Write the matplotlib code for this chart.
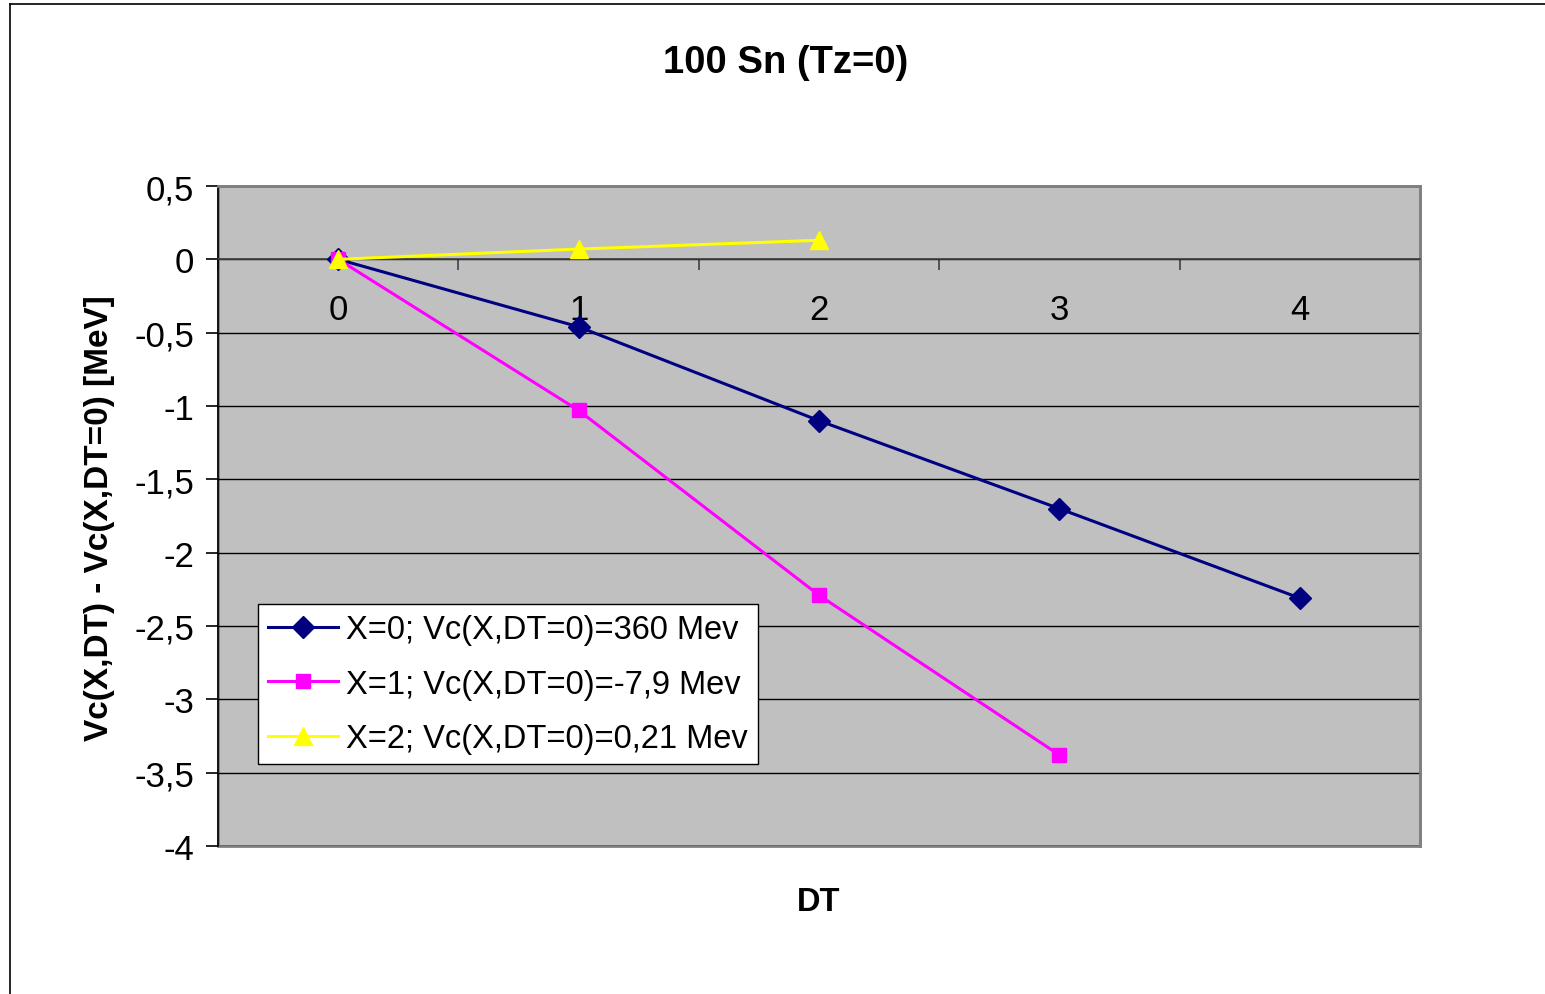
import matplotlib
matplotlib.use("Agg")
import matplotlib.pyplot as plt
from matplotlib.lines import Line2D
from matplotlib.patches import Rectangle

plt.rcParams['font.family'] = ['Liberation Sans', 'DejaVu Sans']

# Data
dt_categories = ["0", "1", "2", "3", "4"]
x0_values = [0.0, -0.46, -1.10, -1.70, -2.31]
x1_values = [0.0, -1.03, -2.29, -3.38]
x2_values = [0.0, 0.07, 0.13]
series_labels = [
    "X=0; Vc(X,DT=0)=360 Mev",
    "X=1; Vc(X,DT=0)=-7,9 Mev",
    "X=2; Vc(X,DT=0)=0,21 Mev",
]
y_ticks = [0.5, 0, -0.5, -1, -1.5, -2, -2.5, -3, -3.5, -4]
y_tick_labels = ["0,5", "0", "-0,5", "-1", "-1,5", "-2", "-2,5", "-3", "-3,5", "-4"]

W, H = 1545, 995
fig = plt.figure(figsize=(W / 100, H / 100), dpi=100)
fig.patch.set_facecolor("white")

# Chart-area frame (left and top edges)
fig.add_artist(Line2D([10 / W, 10 / W], [0, 1 - 5 / H], transform=fig.transFigure,
                      color="black", lw=1.2))
fig.add_artist(Line2D([10 / W, 1], [1 - 5 / H, 1 - 5 / H], transform=fig.transFigure,
                      color="black", lw=1.2))

left, right, top, bottom = 218 / W, 1420 / W, 1 - 187 / H, 1 - 847 / H
ax = fig.add_axes([left, bottom, right - left, top - bottom])
ax.set_facecolor("#C0C0C0")

ax.set_xlim(-0.5, len(dt_categories) - 0.5)
ax.set_ylim(-4, 0.5)

# Horizontal gridlines
ax.set_yticks(y_ticks)
ax.set_yticklabels(y_tick_labels, fontsize=25)
ax.yaxis.grid(True, color="black", lw=1.0)
ax.set_axisbelow(True)

# Category axis crossing at y = 0
ax.spines['bottom'].set_position(('data', 0))
ax.spines['bottom'].set_color("#404040")
ax.spines['bottom'].set_linewidth(1.2)
ax.spines['left'].set_color("black")
ax.spines['left'].set_linewidth(1.2)
for s in ('top', 'right'):
    ax.spines[s].set_color("#808080")
    ax.spines[s].set_linewidth(2)

# Plot-area border along the bottom edge
ax.add_patch(Rectangle((0, 0), 1, 1, transform=ax.transAxes, fill=False,
                       edgecolor="#808080", lw=2, zorder=0.5, clip_on=False))

xs = list(range(len(dt_categories)))
ax.set_xticks(xs)
ax.set_xticklabels(dt_categories, fontsize=25)
ax.set_xticks([i - 0.5 for i in range(len(dt_categories) + 1)], minor=True)
ax.tick_params(axis='x', which='major', length=0, pad=24)
ax.tick_params(axis='x', which='minor', length=8, width=1.2, direction='out', color="#404040")
ax.tick_params(axis='y', length=9, width=1.2, direction='out', pad=8)

# Series
ax.plot(xs[:len(x0_values)], x0_values, color="#000080", lw=2.2, marker='D', ms=11,
        label=series_labels[0], zorder=3)
ax.plot(xs[:len(x1_values)], x1_values, color="#FF00FF", lw=2.2, marker='s', ms=10,
        label=series_labels[1], zorder=3)
ax.plot(xs[:len(x2_values)], x2_values, color="#FFFF00", lw=2.2, marker='^', ms=13,
        label=series_labels[2], zorder=4)

leg = ax.legend(loc='lower left', bbox_to_anchor=(40 / 1202, 82 / 660), borderaxespad=0,
                fontsize=23.5, frameon=True, fancybox=False, handlelength=2.15,
                handletextpad=0.25, labelspacing=0.72, borderpad=0.3)
leg.get_frame().set_edgecolor("black")
leg.get_frame().set_linewidth(1.0)
leg.get_frame().set_facecolor("white")
leg.get_frame().set_alpha(1)

fig.text(786 / W, 1 - 63 / H, "100 Sn (Tz=0)", ha='center', va='center',
         fontsize=27.5, fontweight='bold')
fig.text(819 / W, 1 - 903 / H, "DT", ha='center', va='center',
         fontsize=23.5, fontweight='bold')
fig.text(100 / W, 1 - 518 / H, "Vc(X,DT) - Vc(X,DT=0) [MeV]", ha='center', va='center',
         rotation=90, fontsize=24, fontweight='bold')

fig.savefig("out.png", dpi=100)
